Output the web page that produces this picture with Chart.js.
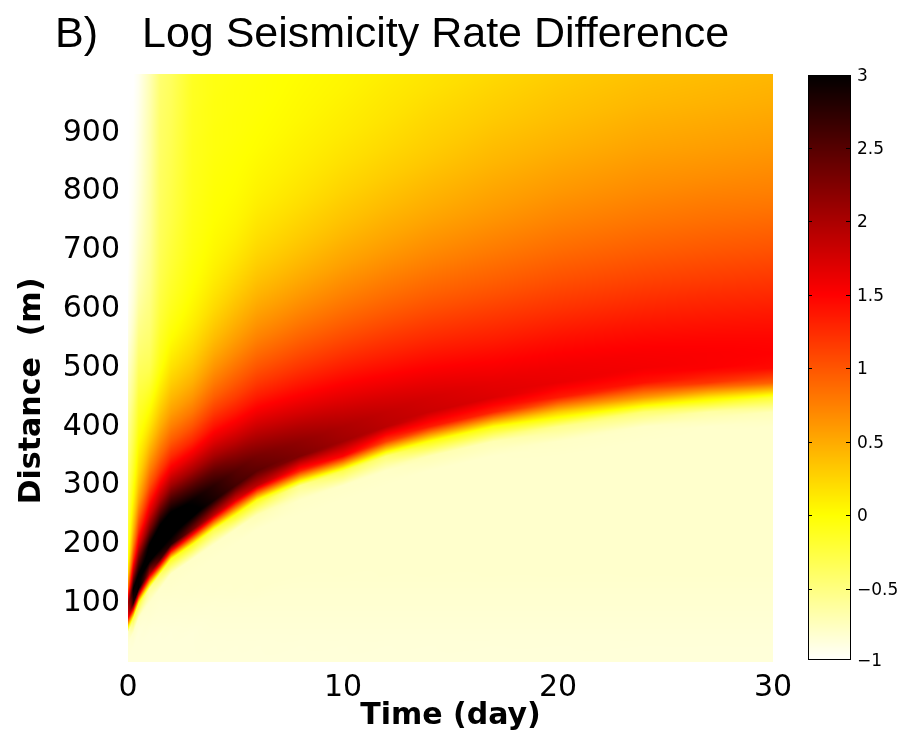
<!DOCTYPE html>
<html>
<head>
<meta charset="utf-8">
<title>Log Seismicity Rate Difference</title>
<script src="https://cdn.jsdelivr.net/npm/chart.js@4.4.1/dist/chart.umd.min.js"></script>
<style>
  html, body { margin: 0; padding: 0; background: #fff; }
  canvas { display: block; }
</style>
</head>
<body>
<canvas id="rateChart" width="912" height="742"></canvas>
<script>
(() => {
  'use strict'

  // sample times (day), one column of the field each
  const days = [0, 0.25, 0.5, 1, 1.5, 2, 3, 4, 5, 6, 8, 10, 12, 14, 17, 20, 24, 27, 30]

  // sample distances (m)
  const distances = [
    0, 25, 50, 75, 100, 125, 150, 175, 200, 225,
    250, 275, 300, 325, 350, 375, 400, 425, 450, 475,
    500, 525, 550, 575, 600, 625, 650, 675, 700, 725,
    750, 775, 800, 825, 850, 875, 900, 925, 950, 975,
    1000
  ]

  // log seismicity rate difference, one row per day, listed by distance
  const logRate = [
    // day 0
    [-0.85, -0.85, -0.8, 1.5, 2.0, 0.8, 0.2, -0.1, -0.2, -0.25,
      -0.3, -0.35, -0.4, -0.45, -0.5, -0.55, -0.6, -0.65, -0.7, -0.75,
      -0.8, -0.85, -0.9, -0.92, -0.95, -0.97, -0.98, -1, -1, -1,
      -1, -1, -1, -1, -1, -1, -1, -1, -1, -1,
      -1],
    // day 0.25
    [-0.85, -0.85, -0.8, -0.3, 2.8, 3.0, 2.0, 1.2, 0.7, 0.4,
      0.2, 0.05, -0.05, -0.15, -0.22, -0.3, -0.36, -0.42, -0.5, -0.56,
      -0.62, -0.68, -0.73, -0.78, -0.82, -0.85, -0.87, -0.89, -0.9, -0.92,
      -0.93, -0.94, -0.95, -0.96, -0.97, -0.98, -0.98, -0.99, -0.99, -1,
      -1],
    // day 0.5
    [-0.85, -0.85, -0.85, -0.8, -0.2, 3.0, 3.0, 2.4, 1.7, 1.2,
      0.85, 0.55, 0.35, 0.2, 0.1, 0.0, -0.08, -0.15, -0.22, -0.3,
      -0.37, -0.44, -0.5, -0.56, -0.62, -0.67, -0.71, -0.74, -0.77, -0.8,
      -0.82, -0.84, -0.86, -0.87, -0.88, -0.89, -0.9, -0.91, -0.92, -0.93,
      -0.94],
    // day 1
    [-0.85, -0.85, -0.85, -0.82, -0.8, -0.6, 2.0, 3.2, 3.0, 2.3,
      1.75, 1.35, 1.0, 0.75, 0.52, 0.32, 0.15, 0.02, -0.1, -0.22,
      -0.32, -0.38, -0.43, -0.47, -0.5, -0.53, -0.56, -0.58, -0.6, -0.62,
      -0.63, -0.64, -0.65, -0.66, -0.67, -0.68, -0.68, -0.69, -0.7, -0.71,
      -0.72],
    // day 1.5
    [-0.85, -0.85, -0.85, -0.83, -0.82, -0.8, -0.4, 2.6, 3.2, 3.2,
      2.6, 2.0, 1.55, 1.18, 0.9, 0.68, 0.48, 0.32, 0.18, 0.06,
      -0.04, -0.1, -0.15, -0.2, -0.24, -0.27, -0.3, -0.32, -0.34, -0.35,
      -0.36, -0.37, -0.38, -0.38, -0.39, -0.4, -0.4, -0.41, -0.42, -0.43,
      -0.44],
    // day 2
    [-0.85, -0.85, -0.85, -0.83, -0.82, -0.8, -0.78, -0.1, 2.8, 3.2,
      3.1, 2.6, 2.05, 1.6, 1.25, 0.97, 0.75, 0.56, 0.41, 0.28,
      0.17, 0.08, 0.0, -0.06, -0.11, -0.15, -0.18, -0.21, -0.23, -0.25,
      -0.27, -0.28, -0.29, -0.3, -0.31, -0.32, -0.33, -0.34, -0.35, -0.36,
      -0.37],
    // day 3
    [-0.85, -0.85, -0.85, -0.83, -0.82, -0.8, -0.8, -0.78, -0.1, 2.3,
      3.1, 2.95, 2.5, 2.02, 1.62, 1.28, 1.02, 0.8, 0.62, 0.47,
      0.35, 0.25, 0.17, 0.1, 0.05, 0.01, -0.02, -0.04, -0.06, -0.07,
      -0.08, -0.09, -0.1, -0.1, -0.11, -0.11, -0.12, -0.12, -0.13, -0.13,
      -0.14],
    // day 4
    [-0.85, -0.85, -0.84, -0.83, -0.82, -0.8, -0.8, -0.8, -0.78, -0.3,
      1.9, 2.85, 2.75, 2.42, 2.02, 1.68, 1.4, 1.16, 0.95, 0.78,
      0.63, 0.5, 0.39, 0.3, 0.22, 0.16, 0.11, 0.07, 0.04, 0.02,
      0.0, -0.01, -0.02, -0.03, -0.04, -0.05, -0.05, -0.06, -0.06, -0.07,
      -0.07],
    // day 5
    [-0.85, -0.85, -0.84, -0.83, -0.82, -0.8, -0.8, -0.8, -0.8, -0.77,
      -0.1, 1.7, 2.6, 2.5, 2.2, 1.88, 1.6, 1.36, 1.15, 0.98,
      0.83, 0.69, 0.57, 0.47, 0.38, 0.3, 0.23, 0.17, 0.12, 0.08,
      0.05, 0.03, 0.01, 0.0, -0.01, -0.02, -0.03, -0.03, -0.04, -0.04,
      -0.05],
    // day 6
    [-0.85, -0.85, -0.84, -0.83, -0.82, -0.8, -0.8, -0.8, -0.8, -0.8,
      -0.7, -0.1, 1.9, 2.45, 2.3, 2.05, 1.8, 1.56, 1.35, 1.17,
      1.01, 0.87, 0.74, 0.63, 0.53, 0.44, 0.36, 0.29, 0.23, 0.18,
      0.14, 0.1, 0.07, 0.05, 0.03, 0.01, 0.0, -0.01, -0.02, -0.02,
      -0.03],
    // day 8
    [-0.85, -0.85, -0.84, -0.83, -0.82, -0.81, -0.8, -0.8, -0.8, -0.8,
      -0.8, -0.78, -0.55, 1.3, 2.25, 2.15, 1.95, 1.73, 1.53, 1.36,
      1.2, 1.06, 0.93, 0.81, 0.7, 0.6, 0.51, 0.43, 0.36, 0.3,
      0.25, 0.2, 0.16, 0.13, 0.1, 0.08, 0.06, 0.04, 0.03, 0.02,
      0.01],
    // day 10
    [-0.85, -0.85, -0.84, -0.83, -0.82, -0.81, -0.8, -0.8, -0.8, -0.8,
      -0.8, -0.8, -0.78, -0.3, 1.5, 2.05, 1.98, 1.82, 1.65, 1.49,
      1.34, 1.2, 1.07, 0.95, 0.84, 0.74, 0.65, 0.56, 0.49, 0.42,
      0.36, 0.31, 0.26, 0.22, 0.18, 0.15, 0.12, 0.1, 0.08, 0.06,
      0.05],
    // day 12
    [-0.85, -0.85, -0.84, -0.83, -0.82, -0.81, -0.8, -0.8, -0.8, -0.8,
      -0.8, -0.8, -0.8, -0.78, -0.45, 1.15, 1.9, 1.85, 1.72, 1.57,
      1.43, 1.3, 1.18, 1.06, 0.95, 0.85, 0.76, 0.67, 0.59, 0.52,
      0.46, 0.4, 0.35, 0.3, 0.26, 0.22, 0.19, 0.16, 0.14, 0.12,
      0.1],
    // day 14
    [-0.85, -0.85, -0.84, -0.83, -0.82, -0.81, -0.8, -0.8, -0.8, -0.8,
      -0.8, -0.8, -0.8, -0.8, -0.7, -0.05, 1.35, 1.8, 1.75, 1.63,
      1.5, 1.38, 1.26, 1.15, 1.04, 0.94, 0.85, 0.76, 0.68, 0.61,
      0.54, 0.48, 0.43, 0.38, 0.33, 0.29, 0.26, 0.23, 0.2, 0.17,
      0.15],
    // day 17
    [-0.85, -0.85, -0.84, -0.83, -0.82, -0.81, -0.8, -0.8, -0.8, -0.8,
      -0.8, -0.8, -0.8, -0.8, -0.8, -0.7, -0.05, 1.3, 1.7, 1.64,
      1.54, 1.44, 1.33, 1.23, 1.13, 1.03, 0.94, 0.86, 0.78, 0.71,
      0.64, 0.58, 0.53, 0.48, 0.43, 0.39, 0.35, 0.31, 0.28, 0.25,
      0.22],
    // day 20
    [-0.85, -0.85, -0.84, -0.83, -0.82, -0.81, -0.8, -0.8, -0.8, -0.8,
      -0.8, -0.8, -0.8, -0.8, -0.8, -0.78, -0.55, 0.3, 1.35, 1.62,
      1.58, 1.5, 1.41, 1.31, 1.21, 1.12, 1.03, 0.95, 0.87, 0.8,
      0.73, 0.67, 0.61, 0.56, 0.51, 0.46, 0.42, 0.38, 0.35, 0.32,
      0.29],
    // day 24
    [-0.85, -0.85, -0.84, -0.83, -0.82, -0.81, -0.8, -0.8, -0.8, -0.8,
      -0.8, -0.8, -0.8, -0.8, -0.8, -0.8, -0.78, -0.45, 0.6, 1.4,
      1.56, 1.53, 1.46, 1.38, 1.29, 1.2, 1.11, 1.03, 0.95, 0.88,
      0.81, 0.75, 0.69, 0.64, 0.59, 0.54, 0.5, 0.46, 0.42, 0.39,
      0.36],
    // day 27
    [-0.85, -0.85, -0.84, -0.83, -0.82, -0.81, -0.8, -0.8, -0.8, -0.8,
      -0.8, -0.8, -0.8, -0.8, -0.8, -0.8, -0.8, -0.65, 0.15, 1.2,
      1.52, 1.52, 1.47, 1.4, 1.32, 1.24, 1.15, 1.07, 0.99, 0.92,
      0.85, 0.79, 0.73, 0.67, 0.62, 0.57, 0.53, 0.49, 0.45, 0.42,
      0.39],
    // day 30
    [-0.85, -0.85, -0.84, -0.83, -0.82, -0.81, -0.8, -0.8, -0.8, -0.8,
      -0.8, -0.8, -0.8, -0.8, -0.8, -0.8, -0.8, -0.72, -0.2, 0.95,
      1.45, 1.5, 1.47, 1.41, 1.34, 1.26, 1.18, 1.1, 1.02, 0.95,
      0.88, 0.81, 0.75, 0.7, 0.65, 0.6, 0.56, 0.52, 0.48, 0.45,
      0.42]
  ]

  const timeTicks = [0, 10, 20, 30]
  const distanceTicks = [100, 200, 300, 400, 500, 600, 700, 800, 900]
  const colorTicks = [3, 2.5, 2, 1.5, 1, 0.5, 0, -0.5, -1]
  const colorMin = -1
  const colorMax = 3

  // reversed "hot" map: white at colorMin, yellow, red, black at colorMax
  function hotColor(v) {
    let f = (colorMax - v) / (colorMax - colorMin)
    f = Math.min(1, Math.max(0, f))
    const r = Math.min(1, f / 0.375)
    const g = Math.min(1, Math.max(0, (f - 0.375) / 0.375))
    const b = Math.min(1, Math.max(0, (f - 0.75) / 0.25))
    return [Math.round(r * 255), Math.round(g * 255), Math.round(b * 255)]
  }

  // index of the sample interval holding v, and the fraction inside it
  function locate(samples, v) {
    let lo = 0
    let hi = samples.length - 2
    while (lo < hi) {
      const mid = (lo + hi + 1) >> 1
      if (samples[mid] <= v) lo = mid
      else hi = mid - 1
    }
    let f = (v - samples[lo]) / (samples[lo + 1] - samples[lo])
    f = Math.min(1, Math.max(0, f))
    return { k: lo, f }
  }

  function sampleColumn(col, r) {
    const { k, f } = locate(distances, r)
    return col[k] * (1 - f) + col[k + 1] * f
  }

  // distance where each column first climbs through zero: the leading edge
  const fronts = logRate.map(col => {
    for (let i = 1; i < col.length; i++) {
      if (col[i - 1] < 0 && col[i] >= 0) {
        return distances[i - 1] + (distances[i] - distances[i - 1]) * (-col[i - 1]) / (col[i] - col[i - 1])
      }
    }
    return 0
  })

  const heatLayer = {
    id: 'heatLayer',
    beforeDatasetsDraw(chart) {
      const { ctx, chartArea: area, scales: { x, y } } = chart
      const left = Math.round(area.left)
      const top = Math.round(area.top)
      const w = Math.round(area.right) - left
      const h = Math.round(area.bottom) - top
      const img = ctx.createImageData(w, h)
      const cols = []
      const rows = []
      for (let i = 0; i < w; i++) {
        const c = locate(days, x.getValueForPixel(left + i + 0.5))
        c.front = fronts[c.k] * (1 - c.f) + fronts[c.k + 1] * c.f
        cols.push(c)
      }
      for (let j = 0; j < h; j++) rows.push(y.getValueForPixel(top + j + 0.5))
      for (let i = 0; i < w; i++) {
        const c = cols[i]
        const a = logRate[c.k]
        const b = logRate[c.k + 1]
        // blend neighbouring columns with their leading edges lined up
        const da = fronts[c.k] - c.front
        const db = fronts[c.k + 1] - c.front
        for (let j = 0; j < h; j++) {
          const r = rows[j]
          const v = sampleColumn(a, r + da) * (1 - c.f) + sampleColumn(b, r + db) * c.f
          const rgb = hotColor(v)
          const p = (j * w + i) * 4
          img.data[p] = rgb[0]
          img.data[p + 1] = rgb[1]
          img.data[p + 2] = rgb[2]
          img.data[p + 3] = 255
        }
      }
      ctx.putImageData(img, left, top)
    }
  }

  const colorBar = {
    id: 'colorBar',
    afterDraw(chart) {
      const { ctx, chartArea: area, scales: { cb } } = chart
      const left = Math.round(area.right) + 35
      const width = 43
      const top = Math.round(cb.getPixelForValue(colorMax)) + 1
      const bottom = Math.round(cb.getPixelForValue(colorMin)) - 2
      ctx.save()
      for (let yy = top; yy < bottom; yy++) {
        const rgb = hotColor(cb.getValueForPixel(yy + 0.5))
        ctx.fillStyle = `rgb(${rgb[0]},${rgb[1]},${rgb[2]})`
        ctx.fillRect(left, yy, width, 1)
      }
      ctx.strokeStyle = '#000'
      ctx.lineWidth = 1
      ctx.strokeRect(left + 0.5, top + 0.5, width - 1, bottom - top - 1)
      ctx.fillStyle = '#000'
      ctx.font = '17px "DejaVu Sans"'
      ctx.textAlign = 'left'
      ctx.textBaseline = 'middle'
      colorTicks.forEach(v => {
        const yy = Math.min(bottom, Math.max(top, Math.round(cb.getPixelForValue(v)))) + 0.5
        if (v !== colorMax && v !== colorMin) {
          ctx.beginPath()
          ctx.moveTo(left, yy)
          ctx.lineTo(left + 4, yy)
          ctx.moveTo(left + width - 5, yy)
          ctx.lineTo(left + width - 1, yy)
          ctx.stroke()
        }
        const label = v < 0 ? '\u2212' + Math.abs(v) : String(v)
        ctx.fillText(label, left + width + 6, yy + 1)
      })
      ctx.restore()
    }
  }

  const heading = {
    id: 'heading',
    afterDraw(chart) {
      const { ctx } = chart
      ctx.save()
      ctx.fillStyle = '#000'
      ctx.font = '43px "Liberation Sans"'
      ctx.textAlign = 'left'
      ctx.textBaseline = 'alphabetic'
      ctx.fillText('B)', 55, 47)
      ctx.fillText('Log Seismicity Rate Difference', 142, 47)
      // distance axis title, set a little below the axis middle
      ctx.translate(32, 391)
      ctx.rotate(-Math.PI / 2)
      ctx.font = 'bold 30px "DejaVu Sans"'
      ctx.textAlign = 'center'
      ctx.textBaseline = 'middle'
      ctx.fillText('Distance  (m)', 0, 0)
      ctx.restore()
    }
  }

  const tickFont = { family: '"DejaVu Sans"', size: 30 }
  const titleFont = { family: '"DejaVu Sans"', size: 30, weight: 'bold' }

  // eslint-disable-next-line no-unused-vars
  const rateChart = new Chart(document.getElementById('rateChart'), {
    type: 'scatter',
    data: { datasets: [{ data: [], pointRadius: 0 }] },
    plugins: [heatLayer, colorBar, heading],
    options: {
      responsive: false,
      animation: false,
      events: [],
      layout: { padding: { top: 74, right: 139, bottom: 0, left: 0 } },
      plugins: {
        legend: { display: false },
        tooltip: { enabled: false },
        title: { display: false }
      },
      scales: {
        x: {
          type: 'linear',
          min: 0,
          max: 30,
          afterBuildTicks: s => { s.ticks = timeTicks.map(v => ({ value: v })) },
          afterFit: s => { s.height = 80 },
          grid: { display: false, drawTicks: false },
          border: { display: false },
          ticks: { color: '#000', font: tickFont, padding: 8, maxRotation: 0 },
          title: {
            display: true,
            text: 'Time (day)',
            color: '#000',
            font: titleFont,
            padding: { top: 0, bottom: 8 }
          }
        },
        y: {
          type: 'linear',
          min: 0,
          max: 1000,
          afterBuildTicks: s => { s.ticks = distanceTicks.map(v => ({ value: v })) },
          afterFit: s => { s.width = 128 },
          grid: { display: false, drawTicks: false },
          border: { display: false },
          ticks: { color: '#000', font: tickFont, padding: 8 }
        },
        cb: {
          type: 'linear',
          position: 'right',
          display: false,
          min: colorMin,
          max: colorMax
        }
      }
    }
  })
})()
</script>
</body>
</html>
